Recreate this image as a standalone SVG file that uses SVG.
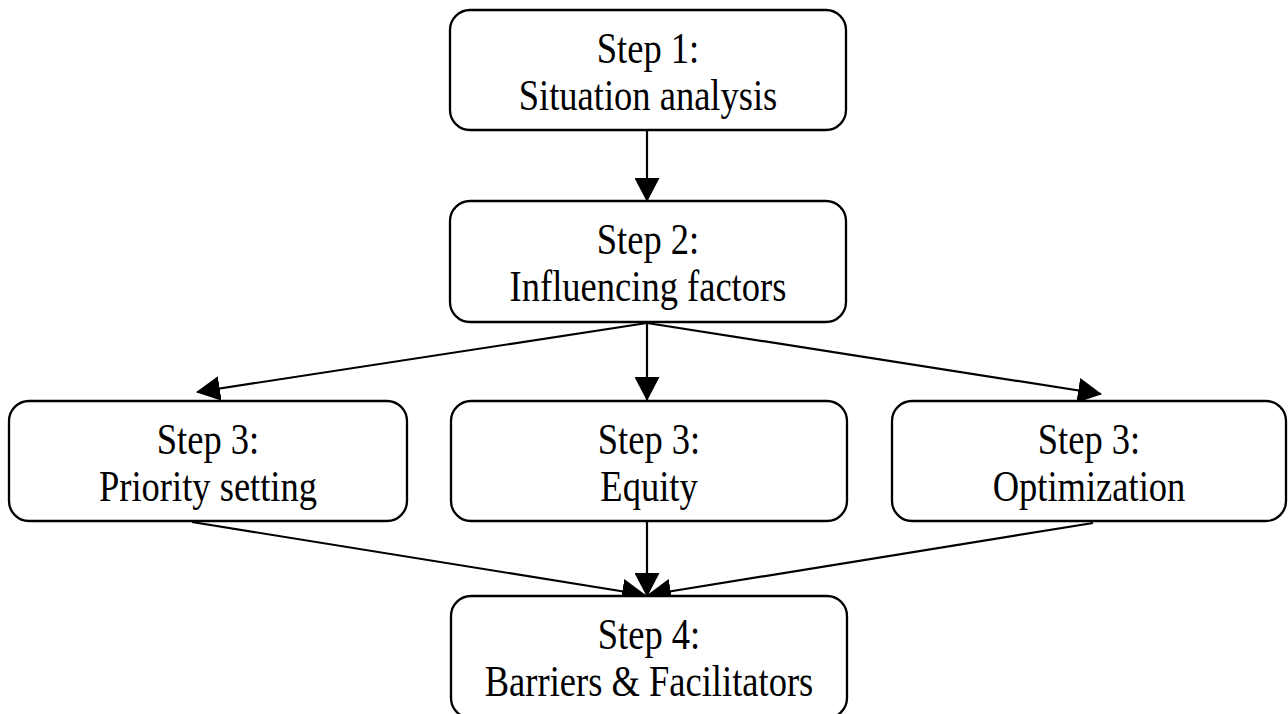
<svg xmlns="http://www.w3.org/2000/svg" width="1288" height="714" viewBox="0 0 1288 714">
<style>
.box{fill:#fff;stroke:#000;stroke-width:2.3}
.lbl{font-family:'Liberation Serif','Times New Roman',serif;font-size:44px;fill:#000;text-anchor:middle}
.edge{stroke:#000;stroke-width:2.2;fill:none;marker-end:url(#ah)}
</style>
<defs>
<marker id="ah" markerUnits="userSpaceOnUse" markerWidth="24" markerHeight="25" viewBox="0 0 24 25" refX="23" refY="12.5" orient="auto">
<path d="M0,0 L24,12.5 L0,25 z" fill="#000"/>
</marker>
</defs>
<rect width="1288" height="714" fill="#fff"/>
<g id="connectors">
<line class="edge" x1="647" y1="131" x2="647" y2="201"/>
<line class="edge" x1="647" y1="323" x2="647" y2="400"/>
<line class="edge" x1="647" y1="323" x2="197" y2="392"/>
<line class="edge" x1="647" y1="323" x2="1101" y2="394"/>
<line class="edge" x1="192" y1="522" x2="645" y2="595"/>
<line class="edge" x1="647" y1="522" x2="647" y2="596"/>
<line class="edge" x1="1093" y1="523" x2="648" y2="595"/>
</g>
<g id="step1">
<rect class="box" x="450" y="10" width="396" height="120" rx="20"/>
<text class="lbl" transform="matrix(0.83 0 0 1 648 63)">Step 1:</text>
<text class="lbl" transform="matrix(0.83 0 0 1 648 110)">Situation analysis</text>
</g>
<g id="step2">
<rect class="box" x="450" y="201" width="396" height="121" rx="20"/>
<text class="lbl" transform="matrix(0.83 0 0 1 648 254)">Step 2:</text>
<text class="lbl" transform="matrix(0.83 0 0 1 648 301)">Influencing factors</text>
</g>
<g id="step3a">
<rect class="box" x="9" y="401" width="398" height="120" rx="20"/>
<text class="lbl" transform="matrix(0.83 0 0 1 208 454)">Step 3:</text>
<text class="lbl" transform="matrix(0.83 0 0 1 208 501)">Priority setting</text>
</g>
<g id="step3b">
<rect class="box" x="451" y="401" width="396" height="120" rx="20"/>
<text class="lbl" transform="matrix(0.83 0 0 1 649 454)">Step 3:</text>
<text class="lbl" transform="matrix(0.83 0 0 1 649 501)">Equity</text>
</g>
<g id="step3c">
<rect class="box" x="892" y="401" width="394" height="120" rx="20"/>
<text class="lbl" transform="matrix(0.83 0 0 1 1089 454)">Step 3:</text>
<text class="lbl" transform="matrix(0.83 0 0 1 1089 501)">Optimization</text>
</g>
<g id="step4">
<rect class="box" x="451" y="596" width="396" height="122" rx="20"/>
<text class="lbl" transform="matrix(0.83 0 0 1 649 649)">Step 4:</text>
<text class="lbl" transform="matrix(0.83 0 0 1 649 696)">Barriers &amp; Facilitators</text>
</g>
</svg>
